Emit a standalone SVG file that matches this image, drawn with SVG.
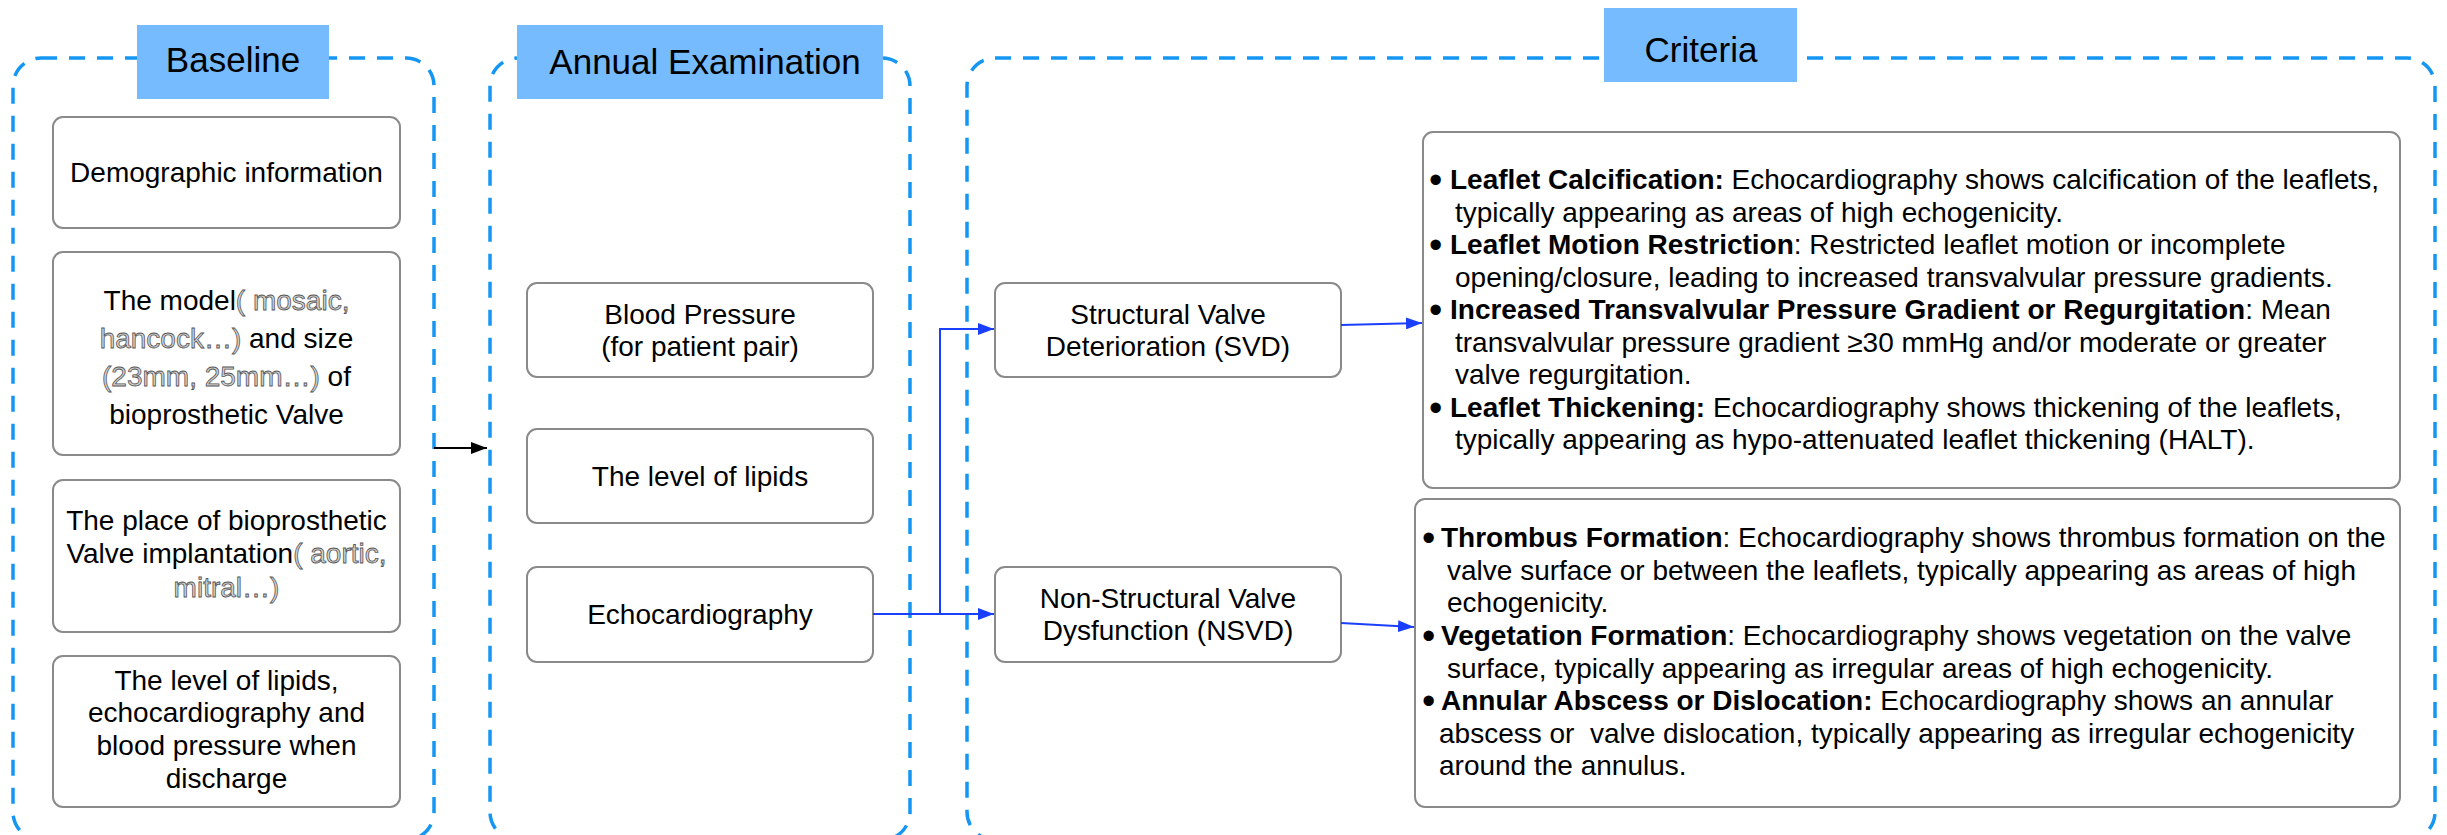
<svg xmlns="http://www.w3.org/2000/svg" width="2447" height="835" viewBox="0 0 2447 835">
<defs>
<style>
text{font-family:"Liberation Sans",Arial,Helvetica,sans-serif;fill:#000}
.t{font-size:28px;text-anchor:middle}
.c{font-size:28px}
.h{font-size:35px;text-anchor:middle}
.g{fill:#d2d2d2;stroke:#555;stroke-width:0.8px}
.cont{fill:none;stroke:#1496f2;stroke-width:3.5;stroke-dasharray:16 12}
.title{fill:#76bbfd}
.box{fill:#fff;stroke:#8a8a8a;stroke-width:2}
.b{font-weight:bold}
.bl{font-size:38px}
.blue{fill:none;stroke:#1b3fff;stroke-width:2}
.blk{fill:none;stroke:#000;stroke-width:2}
</style>
<marker id="ab" viewBox="0 0 16 12" refX="16" refY="6" markerWidth="16" markerHeight="12" markerUnits="userSpaceOnUse" orient="auto"><path d="M0,0 L16,6 L0,12 z" fill="#1b3fff"/></marker>
<marker id="ak" viewBox="0 0 16 12" refX="16" refY="6" markerWidth="16" markerHeight="12" markerUnits="userSpaceOnUse" orient="auto"><path d="M0,0 L16,6 L0,12 z" fill="#000"/></marker>
</defs>
<rect width="2447" height="835" fill="#fff"/>

<g id="baseline-group">
<rect class="cont" x="13" y="58" width="421" height="782" rx="28"/>
<rect class="title" x="137" y="25" width="192" height="74"/>
<text class="h" x="233" y="72">Baseline</text>
</g>
<g id="annual-group">
<rect class="cont" x="490" y="58" width="420" height="782" rx="28"/>
<rect class="title" x="517" y="25" width="366" height="74"/>
<text class="h" x="705" y="74">Annual Examination</text>
</g>
<g id="criteria-group">
<rect class="cont" x="967" y="58" width="1468" height="782" rx="28"/>
<rect class="title" x="1604" y="8" width="193" height="74"/>
<text class="h" x="1701" y="62">Criteria</text>
</g>

<g id="demographic">
<rect class="box" x="53" y="117" width="347" height="111" rx="10"/>
<text class="t" x="226.5" y="182">Demographic information</text>
</g>
<g id="model-size">
<rect class="box" x="53" y="252" width="347" height="203" rx="10"/>
<text class="t" x="226.5" y="310">The model<tspan class="g">( mosaic,</tspan></text>
<text class="t" x="226.5" y="348"><tspan class="g">hancock…)</tspan> and size</text>
<text class="t" x="226.5" y="386"><tspan class="g">(23mm, 25mm…)</tspan> of</text>
<text class="t" x="226.5" y="424">bioprosthetic Valve</text>
</g>
<g id="place">
<rect class="box" x="53" y="480" width="347" height="152" rx="10"/>
<text class="t" x="226.5" y="530">The place of bioprosthetic</text>
<text class="t" x="226.5" y="563">Valve implantation<tspan class="g">( aortic,</tspan></text>
<text class="t" x="226.5" y="597"><tspan class="g">mitral…)</tspan></text>
</g>
<g id="discharge">
<rect class="box" x="53" y="656" width="347" height="151" rx="10"/>
<text class="t" x="226.5" y="690">The level of lipids,</text>
<text class="t" x="226.5" y="722">echocardiography and</text>
<text class="t" x="226.5" y="755">blood pressure when</text>
<text class="t" x="226.5" y="788">discharge</text>
</g>

<g id="blood-pressure">
<rect class="box" x="527" y="283" width="346" height="94" rx="10"/>
<text class="t" x="700" y="324">Blood Pressure</text>
<text class="t" x="700" y="356">(for patient pair)</text>
</g>
<g id="lipids">
<rect class="box" x="527" y="429" width="346" height="94" rx="10"/>
<text class="t" x="700" y="486">The level of lipids</text>
</g>
<g id="echo">
<rect class="box" x="527" y="567" width="346" height="95" rx="10"/>
<text class="t" x="700" y="624">Echocardiography</text>
</g>

<g id="svd">
<rect class="box" x="995" y="283" width="346" height="94" rx="10"/>
<text class="t" x="1168" y="324">Structural Valve</text>
<text class="t" x="1168" y="356">Deterioration (SVD)</text>
</g>
<g id="nsvd">
<rect class="box" x="995" y="567" width="346" height="95" rx="10"/>
<text class="t" x="1168" y="608">Non-Structural Valve</text>
<text class="t" x="1168" y="640">Dysfunction (NSVD)</text>
</g>

<g id="svd-criteria">
<rect class="box" x="1423" y="132" width="977" height="356" rx="10"/>
<text class="c" y="189"><tspan class="bl" x="1429" dy="4">•</tspan><tspan class="b" x="1450" dy="-4">Leaflet Calcification:</tspan> Echocardiography shows calcification of the leaflets,</text>
<text class="c" x="1455" y="221.5">typically appearing as areas of high echogenicity.</text>
<text class="c" y="254"><tspan class="bl" x="1429" dy="4">•</tspan><tspan class="b" x="1450" dy="-4">Leaflet Motion Restriction</tspan>: Restricted leaflet motion or incomplete</text>
<text class="c" x="1455" y="286.5">opening/closure, leading to increased transvalvular pressure gradients.</text>
<text class="c" y="319"><tspan class="bl" x="1429" dy="4">•</tspan><tspan class="b" x="1450" dy="-4">Increased Transvalvular Pressure Gradient or Regurgitation</tspan>: Mean</text>
<text class="c" x="1455" y="351.5">transvalvular pressure gradient ≥30 mmHg and/or moderate or greater</text>
<text class="c" x="1455" y="384">valve regurgitation.</text>
<text class="c" y="416.5"><tspan class="bl" x="1429" dy="4">•</tspan><tspan class="b" x="1450" dy="-4">Leaflet Thickening:</tspan> Echocardiography shows thickening of the leaflets,</text>
<text class="c" x="1455" y="449">typically appearing as hypo-attenuated leaflet thickening (HALT).</text>
</g>
<g id="nsvd-criteria">
<rect class="box" x="1415" y="499" width="985" height="308" rx="10"/>
<text class="c" y="547"><tspan class="bl" x="1422" dy="4">•</tspan><tspan class="b" x="1441" dy="-4">Thrombus Formation</tspan>: Echocardiography shows thrombus formation on the</text>
<text class="c" x="1447" y="579.5">valve surface or between the leaflets, typically appearing as areas of high</text>
<text class="c" x="1447" y="612">echogenicity.</text>
<text class="c" y="645"><tspan class="bl" x="1422" dy="4">•</tspan><tspan class="b" x="1441" dy="-4">Vegetation Formation</tspan>: Echocardiography shows vegetation on the valve</text>
<text class="c" x="1447" y="677.5">surface, typically appearing as irregular areas of high echogenicity.</text>
<text class="c" y="710"><tspan class="bl" x="1422" dy="4">•</tspan><tspan class="b" x="1441" dy="-4">Annular Abscess or Dislocation:</tspan> Echocardiography shows an annular</text>
<text class="c" x="1439" y="742.5" xml:space="preserve">abscess or  valve dislocation, typically appearing as irregular echogenicity</text>
<text class="c" x="1439" y="775">around the annulus.</text>
</g>

<g id="connectors">
<path class="blk" d="M434,448 H487" marker-end="url(#ak)"/>
<path class="blue" d="M873,614 H994" marker-end="url(#ab)"/>
<path class="blue" d="M940,614 V329 H994" marker-end="url(#ab)"/>
<path class="blue" d="M1341,325 L1422,323" marker-end="url(#ab)"/>
<path class="blue" d="M1341,623 L1414,627" marker-end="url(#ab)"/>
</g>
</svg>
